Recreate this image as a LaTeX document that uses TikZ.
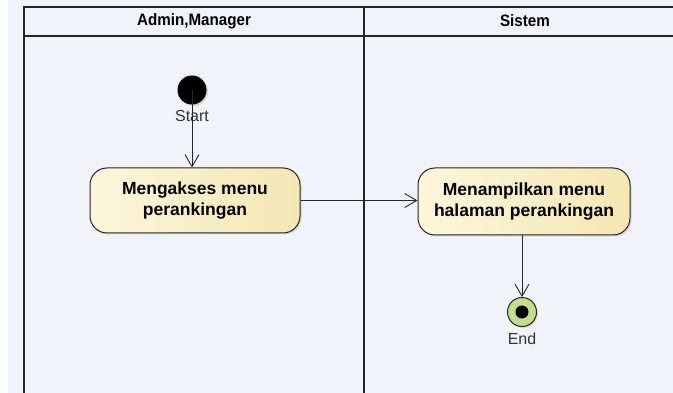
\documentclass[tikz,border=0pt]{standalone}
\usepackage{fontspec}
\setmainfont{Liberation Sans}
\usetikzlibrary{arrows.meta,shadows}
\definecolor{bgc}{HTML}{F2F3F8}
\definecolor{boxl}{HTML}{FCF6DC}
\definecolor{boxr}{HTML}{F4E7B2}
\definecolor{endg}{HTML}{C3DC8E}
\tikzset{
  lane/.style={draw=black!85, line width=1.2pt},
  action/.style={draw=black!85, line width=1pt, rounded corners=17pt, left color=boxl, right color=boxr,
    minimum width=210pt, minimum height=65pt, align=center, font=\bfseries\fontsize{17.5}{21.5}\selectfont,
    drop shadow={shadow xshift=1.5pt, shadow yshift=-1.5pt, opacity=0.25}},
  flow/.style={draw=black!85, line width=0.9pt, -{Straight Barb[length=12pt,width=14pt,line width=0.9pt]}},
  lbl/.style={font=\fontsize{16}{18}\selectfont, text=black!80, inner sep=0pt},
  hdr/.style={font=\bfseries\fontsize{16.5}{18}\selectfont, inner sep=0pt, xscale=0.92}
}
\begin{document}
\begin{tikzpicture}[x=1pt,y=-1pt]
\useasboundingbox (0,0) rectangle (673,393);
\fill[white] (0,0) rectangle (673,393);
\fill[bgc] (8,0) rectangle (673,393);
% swimlanes
\draw[lane] (24,400) -- (24,7) -- (680,7);
\draw[lane] (24,36) -- (680,36);
\draw[lane] (364,7) -- (364,400);
\node[hdr] (h1) at (194,21) {Admin,Manager};
\node[hdr] (h2) at (525,21) {Sistem};
% start
\node[circle, fill=black, minimum size=29pt, inner sep=0pt,
  drop shadow={shadow xshift=1.5pt, shadow yshift=-1.5pt, opacity=0.25}] (start) at (192,90) {};
\node[lbl] (startl) at (192,116) {Start};
% actions
\node[action] (a1) at (195,200.5) {Mengakses menu\\perankingan};
\node[action, minimum width=212pt, minimum height=67pt] (a2) at (524,201.5) {Menampilkan menu\\halaman perankingan};
% end
\node[circle, draw=black!85, line width=1pt, fill=endg, minimum size=29pt, inner sep=0pt,
  drop shadow={shadow xshift=1.5pt, shadow yshift=-1.5pt, opacity=0.25}] (end) at (522,312) {};
\fill[black] (end.center) circle (6.5pt);
\node[lbl] (endl) at (522,339) {End};
% flows
\draw[flow] (start.center) -- (start.center |- a1.north);
\draw[flow] (a1.east) -- (a2.west |- a1.east);
\draw[flow] (a2.south -| end.center) -- (end.north);
\end{tikzpicture}
\end{document}
